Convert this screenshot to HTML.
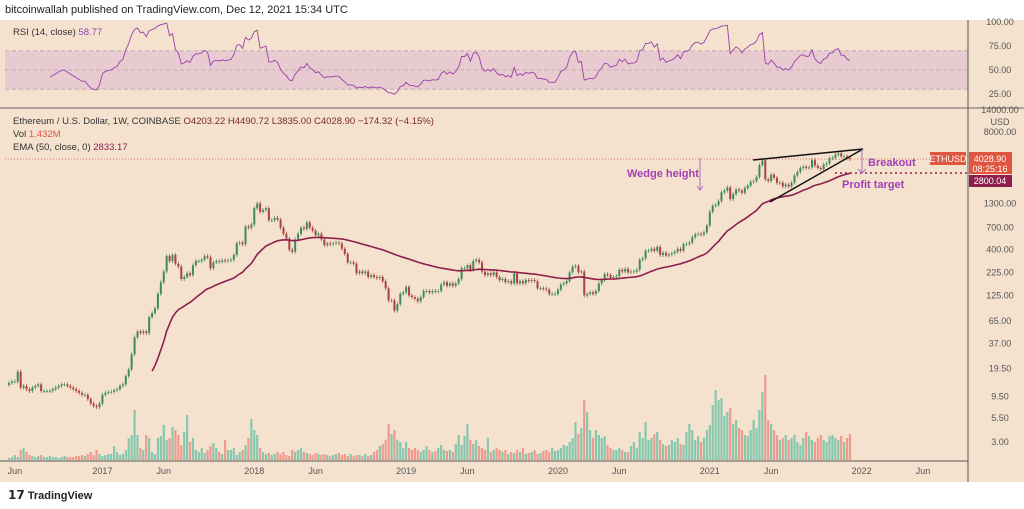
<!DOCTYPE html>
<html><head><meta charset="utf-8">
<style>
html,body{margin:0;padding:0;background:#fff;}
body{width:1024px;height:509px;overflow:hidden;position:relative;font-family:"Liberation Sans",sans-serif;}
#hdr{position:absolute;left:5px;top:4px;font-size:11px;color:#222;}
#foot{position:absolute;left:8px;top:488px;font-size:11px;color:#222;font-weight:bold;}
svg{position:absolute;left:0;top:0;}
</style></head>
<body>
<div id="hdr">bitcoinwallah published on TradingView.com, Dec 12, 2021 15:34 UTC</div>
<div id="foot"><span style="font-size:12px">𝟭𝟳</span> TradingView</div>
<svg id="chart" width="1024" height="509"></svg>
<script>
const closes2016=[13.5,14,14,18,12,12.5,11.5,11,12,12.5,13,11,11,11,11,11.5,12,12.5,13,13,12.5,12,11.5,11,10.5,10,10,9,8,7.5,7.3,8];
const closes2017=[10,10.5,10.7,10.8,11.2,11.5,12.5,13,16,19,28,43,50,48,50,48,72,80,90,130,175,230,340,300,350,280,260,190,200,220,210,270,300,300,310,340,330,250,290,300,295,305,300,305,310,350,470,480,460,720,700,760];
const closes2018=[1150,1300,1050,1100,1150,850,850,900,860,700,600,530,400,380,520,600,700,680,800,700,650,580,600,520,450,470,460,470,480,470,410,360,290,290,280,220,230,220,230,200,210,200,195,200,180,150,110,110,85,100,130,135];
const closes2019=[155,125,120,115,108,120,140,140,135,140,138,140,165,175,160,170,160,170,190,250,250,270,240,300,310,290,230,210,220,210,225,200,185,190,175,180,170,220,170,180,170,185,180,185,180,150,150,148,145,130,130,130];
const closes2020=[145,165,170,180,225,260,265,225,230,125,130,135,130,140,170,185,215,210,195,200,205,240,230,245,225,230,230,240,310,320,390,390,410,390,430,350,370,345,355,365,380,410,390,460,465,480,550,590,600,590,620,740];
const closes2021=[1050,1220,1250,1380,1720,1800,1950,1450,1650,1850,1800,1700,1920,2050,2250,2300,2550,3450,3900,2400,2300,2700,2500,2200,2200,2000,2100,2000,2200,2650,2900,3200,3300,3200,3250,3900,3400,3200,3100,3500,3600,4100,4150,4500,4650,4300,4300,4100,4029];
const vol2016=[2,3,5,3,10,12,8,5,4,3,4,5,3,3,4,3,3,2,3,4,3,3,3,4,4,5,4,6,8,5,10,6];
const vol2017=[4,5,6,6,14,8,5,6,10,22,25,50,25,12,10,25,22,8,6,22,24,35,20,22,33,30,25,15,28,45,18,22,10,8,12,7,10,14,17,12,8,6,20,10,10,12,5,8,10,15,22,41];
const vol2018=[30,25,12,8,6,7,5,6,8,6,8,5,4,10,8,10,12,8,7,6,5,7,6,5,6,5,4,5,6,7,5,6,4,6,4,5,5,4,6,4,5,8,10,14,16,20,36,26,30,20,18,12];
const vol2019=[18,12,10,12,10,8,10,14,10,8,9,12,15,10,9,10,8,16,25,15,24,36,20,16,20,14,12,10,22,8,10,12,10,8,10,6,8,7,10,8,12,6,7,8,10,6,7,9,10,8,12,9];
const vol2020=[10,12,15,14,18,22,38,26,32,60,48,30,22,30,25,22,24,15,12,10,10,12,10,8,8,14,18,12,28,22,38,20,22,26,28,20,16,14,15,20,18,22,16,15,28,36,30,20,24,18,22,30];
const vol2021=[35,55,70,60,62,44,48,52,36,40,32,30,25,24,30,40,32,50,68,85,40,36,30,25,20,22,25,20,22,25,18,15,22,28,24,20,18,22,25,20,18,24,25,22,20,24,18,22,26];
const priceTicks=[14000,8000,4000,1300,700,400,225,125,65,37,19.5,9.5,5.5,3];
const rsiTicks=[100,75,50,25];
const timeLabels=["Jun","2017","Jun","2018","Jun","2019","Jun","2020","Jun","2021","Jun","2022","Jun"];
const timeLabelWeeks=[2,32,53,84,105,136,157,188,209,240,261,292,313];

const closes=[].concat(closes2016,closes2017,closes2018,closes2019,closes2020,closes2021);
const vols=[].concat(vol2016,vol2017,vol2018,vol2019,vol2020,vol2021);
const S=document.getElementById('chart');const NS='http://www.w3.org/2000/svg';
function el(t,a,p){const e=document.createElementNS(NS,t);for(const k in a)e.setAttribute(k,a[k]);(p||S).appendChild(e);return e;}
const xW=i=>9+i*2.92;
const yP=p=>132+(Math.log10(8000)-Math.log10(p))*90.5;
const yR=v=>70-(v-50)*0.96;
const yV=v=>460-v;
const BG='#f4e2cf';
// backgrounds
let e;
e=el('rect',{x:0,y:20,width:1024,height:462,fill:BG});
e=el('rect',{x:5,y:yR(70),width:963,height:yR(30)-yR(70),fill:'#e7cbd0'});
[70,50,30].forEach(v=>{const l=el('line',{x1:5,x2:968,y1:yR(v),y2:yR(v),stroke:'#b9a6a6','stroke-dasharray':'4 3','stroke-width':0.8});});
e=el('line',{x1:0,x2:1024,y1:108,y2:108,stroke:'#9a9088','stroke-width':1.5});
e=el('line',{x1:968,x2:968,y1:20,y2:482,stroke:'#555','stroke-width':1});
e=el('line',{x1:0,x2:968,y1:461,y2:461,stroke:'#555','stroke-width':1});
// ticks
rsiTicks.forEach(v=>{const t=el('text',{x:1000,y:yR(v)+3,'font-size':9,fill:'#555','text-anchor':'middle'});t.textContent=v.toFixed(2);});
priceTicks.forEach(v=>{if(v===4000)return;const t=el('text',{x:1000,y:yP(v)+3,'font-size':9,fill:'#555','text-anchor':'middle'});t.textContent=v.toFixed(2);});
e=el('text',{x:1000,y:125,'font-size':9,fill:'#555','text-anchor':'middle'});e.textContent='USD';
timeLabels.forEach((s,k)=>{const t=el('text',{x:xW(timeLabelWeeks[k]),y:474,'font-size':9,fill:'#555','text-anchor':'middle'});t.textContent=s;});
// volume
vols.forEach((v,i)=>{const up=i===0||closes[i]>=closes[i-1];const r=el('rect',{x:xW(i)-1.1,y:yV(v),width:2.2,height:v,fill:up?'#86c7ae':'#f09a8e'});});
// current price line
e=el('line',{x1:5,x2:968,y1:yP(4028.9),y2:yP(4028.9),stroke:'#d9735e','stroke-dasharray':'1 2','stroke-width':1});
// candles
closes.forEach((c,i)=>{const o=i===0?c*0.95:closes[i-1];const up=c>=o;const col=up?'#3f8a5c':'#a8433a';
 const y1=yP(Math.max(o,c)),y2=yP(Math.min(o,c));
 const w=el('line',{x1:xW(i),x2:xW(i),y1:y1-2,y2:y2+2,stroke:col,'stroke-width':0.7});
 const b=el('rect',{x:xW(i)-1,y:y1,width:2,height:Math.max(0.8,y2-y1),fill:col});});
// EMA 50
let ema=[],k=2/51,sum=0;for(let i=0;i<closes.length;i++){if(i<50){sum+=closes[i];if(i===49)ema[i]=sum/50;}else ema[i]=closes[i]*k+ema[i-1]*(1-k);}
let d='';for(let i=49;i<closes.length;i++)d+=(i===49?'M':'L')+xW(i).toFixed(1)+','+yP(ema[i]).toFixed(1);
e=el('path',{d:d,fill:'none',stroke:'#8e1f4c','stroke-width':1.6});
// RSI 14
let ag=0,al=0,rd='';for(let i=1;i<closes.length;i++){const ch=closes[i]-closes[i-1];const g=Math.max(ch,0),l=Math.max(-ch,0);
 if(i<=14){ag+=g/14;al+=l/14;}else{ag=(ag*13+g)/14;al=(al*13+l)/14;}
 if(i>=14){const r=al===0?100:100-100/(1+ag/al);rd+=(i===14?'M':'L')+xW(i).toFixed(1)+','+yR(r).toFixed(1);}}
e=el('path',{d:rd,fill:'none',stroke:'#9b3fa9','stroke-width':0.9});
// annotations
e=el('line',{x1:753,y1:160,x2:863,y2:149,stroke:'#111','stroke-width':1.5});
e=el('line',{x1:770,y1:202,x2:863,y2:149,stroke:'#111','stroke-width':1.5});
e=el('line',{x1:835,x2:968,y1:173,y2:173,stroke:'#8e1f4c','stroke-dasharray':'2 3','stroke-width':1.6});
e=el('path',{d:'M862,149 L862,173 M858,169 L862,173 L866,169',fill:'none',stroke:'#b06ab8','stroke-width':1});
e=el('path',{d:'M700,158 L700,190 M697,186 L700,190 L703,186',fill:'none',stroke:'#b06ab8','stroke-width':1});
[['Wedge height',627,177,'wedge-height-label'],['Breakout',868,166,'breakout-label'],['Profit target',842,188,'profit-target-label']].forEach(a=>{const t=el('text',{x:a[1],y:a[2],'font-size':11,'font-weight':'bold',fill:'#a140b5'});t.textContent=a[0];});
// price labels
e=el('rect',{x:930,y:152,width:36,height:13,fill:'#e0553f'});
e=el('text',{x:948,y:162,'font-size':9,fill:'#fff','text-anchor':'middle'});e.textContent='ETHUSD';
e=el('rect',{x:969,y:152,width:43,height:22,fill:'#e0553f'});
e=el('text',{x:990,y:162,'font-size':9,fill:'#fff','text-anchor':'middle'});e.textContent='4028.90';
e=el('text',{x:990,y:172,'font-size':9,fill:'#fff','text-anchor':'middle'});e.textContent='08:25:16';
e=el('rect',{x:969,y:175,width:43,height:12,fill:'#8e1f4c'});
e=el('text',{x:990,y:184,'font-size':9,fill:'#fff','text-anchor':'middle'});e.textContent='2800.04';
// legends
function leg(x,y,parts,name){const t=el('text',{x:x,y:y,'font-size':9.5});parts.forEach(p=>{const s=el('tspan',{fill:p[1]},t);s.textContent=p[0];});}
leg(13,35,[['RSI (14, close)  ','#333'],['58.77','#9b3fa9']],'rsi-legend');
leg(13,124,[['Ethereum / U.S. Dollar, 1W, COINBASE  ','#333'],['O4203.22  H4490.72  L3835.00  C4028.90  −174.32 (−4.15%)','#7a2a1f']],'symbol-legend');
leg(13,137,[['Vol  ','#333'],['1.432M','#e0553f']],'volume-legend');
leg(13,150,[['EMA (50, close, 0)  ','#333'],['2833.17','#8e1f4c']],'ema-legend');
</script>
</body></html>
